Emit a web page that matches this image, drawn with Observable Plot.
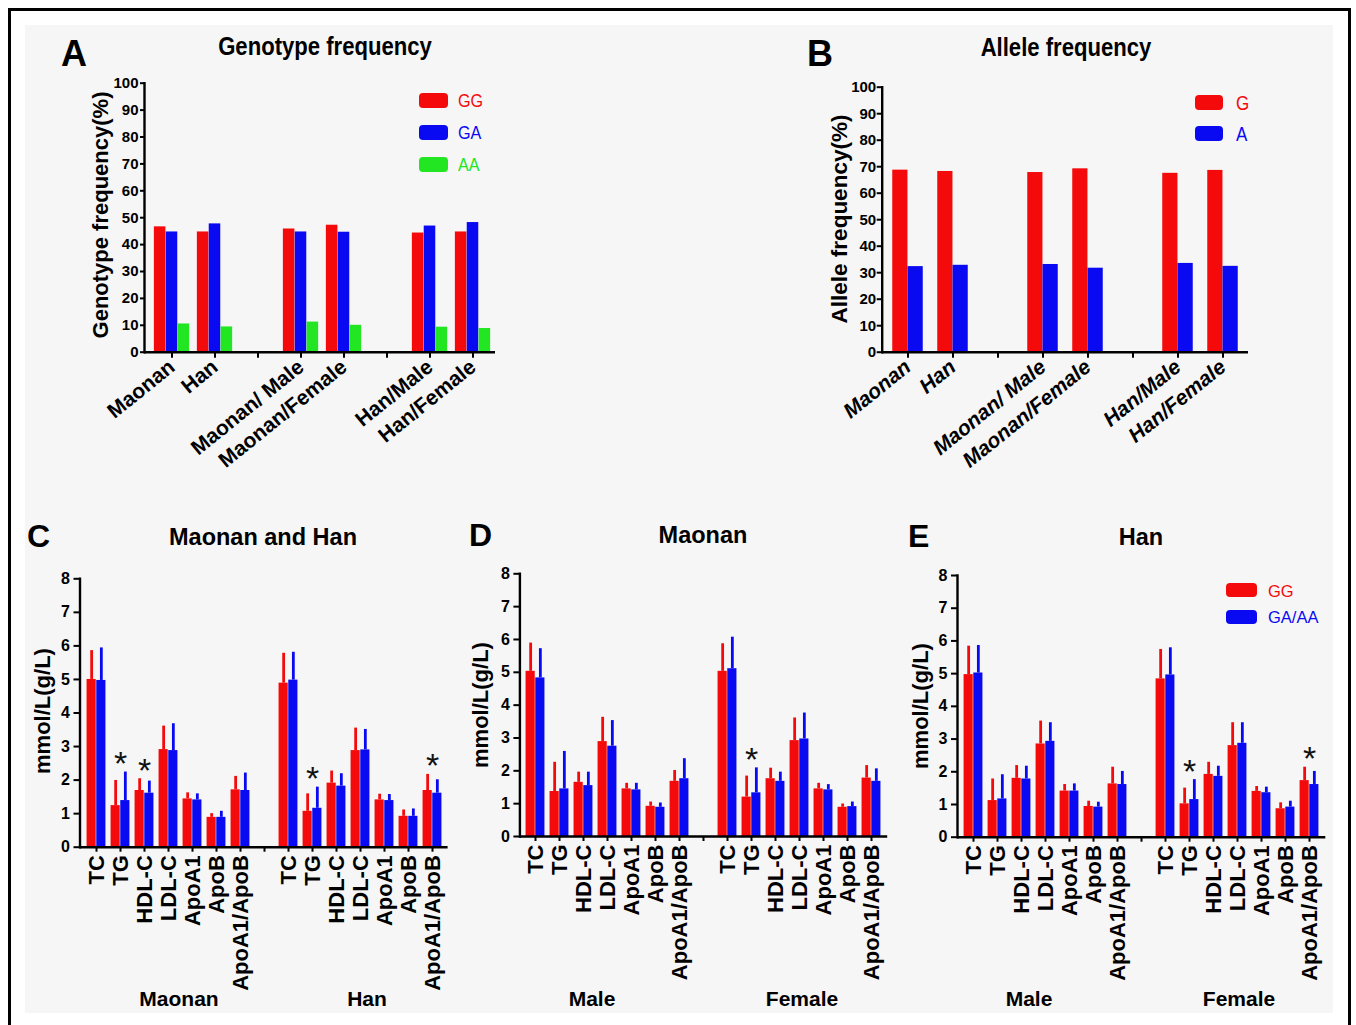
<!DOCTYPE html>
<html>
<head>
<meta charset="utf-8">
<script src="https://cdn.jsdelivr.net/npm/d3@7"></script>
<script src="https://cdn.jsdelivr.net/npm/@observablehq/plot@0.6"></script>
<style>
html,body{margin:0;padding:0;background:#fff;}
#root{position:relative;width:1356px;height:1025px;overflow:hidden;}
.frame{position:absolute;left:8px;top:8px;width:1337px;height:1040px;border:3px solid #000;}
.bg{position:absolute;left:25px;top:25px;width:1308px;height:988px;background:#f6f6f6;}
.t{position:absolute;white-space:nowrap;line-height:1;}
svg{position:absolute;}
</style>
</head>
<body>
<div id="root"><div class="frame"></div><div class="bg"></div></div>
<script>
const SANS = "'Liberation Sans', Arial, Helvetica, sans-serif";
const RED = "#f40a0a", BLUE = "#0a0af2", GREEN = "#22e622";

// ---------- Panel A: genotype frequency (%) ----------
const genoSlots = ["Maonan", "Han", "", "Maonan/ Male", "Maonan/Female", "", "Han/Male", "Han/Female"];
const genoSeries = ["GG", "GA", "AA"];
const genoGG = [46.6, 44.7, 45.8, 47.2, 44.3, 44.7];
const genoGA = [44.7, 47.7, 44.7, 44.6, 46.9, 48.2];
const genoAA = [10.5, 9.4, 11.2, 10.0, 9.3, 8.8];

// ---------- Panel B: allele frequency (%) ----------
const alleleSlots = ["Maonan", "Han", "", "Maonan/ Male", "Maonan/Female", "", "Han/Male", "Han/Female"];
const alleleSeries = ["G", "A"];
const alleleG = [68.7, 68.2, 67.8, 69.2, 67.5, 68.6];
const alleleA = [32.3, 32.8, 33.1, 31.7, 33.5, 32.4];

// ---------- Lipid panels ----------
const lipidLabels = ["TC", "TG", "HDL-C", "LDL-C", "ApoA1", "ApoB", "ApoA1/ApoB"];
const lipidSeries = ["GG", "GA/AA"];

// C: Maonan and Han
const cGroups = ["Maonan", "Han"];
const cMaonanGG = [5.00, 1.24, 1.69, 2.91, 1.44, 0.89, 1.71];
const cMaonanGGsd = [0.86, 0.75, 0.35, 0.70, 0.18, 0.11, 0.40];
const cMaonanGA = [4.97, 1.39, 1.61, 2.88, 1.41, 0.89, 1.69];
const cMaonanGAsd = [0.97, 0.85, 0.36, 0.80, 0.18, 0.18, 0.52];
const cHanGG = [4.89, 1.07, 1.91, 2.88, 1.41, 0.92, 1.69];
const cHanGGsd = [0.89, 0.52, 0.36, 0.67, 0.17, 0.19, 0.48];
const cHanGA = [4.98, 1.16, 1.82, 2.90, 1.39, 0.92, 1.61];
const cHanGAsd = [0.83, 0.63, 0.37, 0.61, 0.18, 0.22, 0.40];
const cStars = [["Maonan", "TG"], ["Maonan", "HDL-C"], ["Han", "TG"], ["Han", "ApoA1/ApoB"]];

// D: Maonan by sex
const dGroups = ["Male", "Female"];
const dMaleGG = [5.03, 1.37, 1.65, 2.89, 1.45, 0.92, 1.68];
const dMaleGGsd = [0.86, 0.89, 0.31, 0.74, 0.17, 0.13, 0.33];
const dMaleGA = [4.83, 1.45, 1.55, 2.75, 1.42, 0.89, 1.76];
const dMaleGAsd = [0.89, 1.14, 0.41, 0.78, 0.20, 0.13, 0.61];
const dFemaleGG = [5.03, 1.20, 1.76, 2.92, 1.45, 0.89, 1.78];
const dFemaleGGsd = [0.84, 0.64, 0.32, 0.69, 0.17, 0.10, 0.38];
const dFemaleGA = [5.11, 1.33, 1.68, 2.97, 1.42, 0.91, 1.68];
const dFemaleGAsd = [0.96, 0.76, 0.28, 0.79, 0.16, 0.14, 0.38];
const dStars = [["Female", "TG"]];

// E: Han by sex
const eGroups = ["Male", "Female"];
const eMaleGG = [4.97, 1.12, 1.80, 2.85, 1.41, 0.94, 1.63];
const eMaleGGsd = [0.87, 0.66, 0.39, 0.70, 0.20, 0.16, 0.51];
const eMaleGA = [5.02, 1.17, 1.78, 2.93, 1.41, 0.92, 1.61];
const eMaleGAsd = [0.84, 0.74, 0.39, 0.57, 0.22, 0.15, 0.40];
const eFemaleGG = [4.84, 1.02, 1.92, 2.80, 1.40, 0.87, 1.73];
const eFemaleGGsd = [0.90, 0.48, 0.37, 0.70, 0.15, 0.18, 0.41];
const eFemaleGA = [4.96, 1.15, 1.86, 2.87, 1.36, 0.92, 1.61];
const eFemaleGAsd = [0.83, 0.61, 0.31, 0.63, 0.17, 0.18, 0.40];
const eStars = [["Female", "TG"], ["Female", "ApoA1/ApoB"]];

const root = document.getElementById("root");

// ---------- helpers ----------
function freqRows(slots, seriesArrays) {
  const rows = [];
  const idx = slots.map((s, i) => s ? i : -1).filter(i => i >= 0);
  seriesArrays.forEach((arr, s) => arr.forEach((v, k) => rows.push({slot: idx[k], series: s, value: v})));
  return rows;
}
function lipidSlots() {
  return [...lipidLabels, "", ...lipidLabels];
}
function lipidRows(data) {
  const rows = [];
  data.forEach(([gg, ggsd, ga, gasd], g) => {
    const off = g * (lipidLabels.length + 1);
    gg.forEach((v, k) => rows.push({slot: off + k, series: 0, value: v, sd: ggsd[k]}));
    ga.forEach((v, k) => rows.push({slot: off + k, series: 1, value: v, sd: gasd[k]}));
  });
  return rows;
}
function starRows(groups, stars, rows) {
  return stars.map(([g, m]) => {
    const slot = groups.indexOf(g) * (lipidLabels.length + 1) + lipidLabels.indexOf(m);
    const top = d3.max(rows.filter(r => r.slot === slot), r => r.value + r.sd);
    return {slot, y: top + 0.45};
  });
}

function drawPanel(cfg) {
  const {pos, margins, inset = [0, 0], slots, rows, nSeries, barW, colors, yDomain, yTicks,
    yTickSize, yTickPad, yFont, xRotate, xTickSize, xTickPad, xFont, xFontStyle = "normal",
    stars = [], errW = 2.8, axisW = 2.4} = cfg;
  const [L, T, W, H] = pos;
  const [mT, mR, mB, mL] = margins;
  const n = slots.length;
  const step = (W - mL - mR - inset[0] - inset[1]) / n;
  const gap = (step - nSeries * barW) / 2;
  const marks = [];
  for (let s = 0; s < nSeries; s++) {
    const sub = rows.filter(r => r.series === s);
    marks.push(Plot.barY(sub, {x: "slot", y: "value", fill: colors[s],
      insetLeft: gap + s * barW, insetRight: step - gap - (s + 1) * barW}));
  }
  for (let s = 0; s < nSeries; s++) {
    const sub = rows.filter(r => r.series === s && r.sd != null);
    if (sub.length) marks.push(Plot.ruleX(sub, {x: "slot", y1: "value", y2: r => r.value + r.sd,
      stroke: colors[s], strokeWidth: errW, dx: gap + (s + 0.5) * barW - step / 2}));
  }
  if (stars.length) marks.push(Plot.text(stars, {x: "slot", y: "y", text: () => "*", fontSize: 34,
    fontWeight: "normal", fill: "#111", dy: 7}));
  marks.push(Plot.axisY({ticks: yTicks, tickSize: yTickSize, tickPadding: yTickPad, fontSize: yFont,
    fontWeight: "bold", strokeWidth: 2, label: null}));
  marks.push(Plot.axisX({tickSize: xTickSize, tickPadding: xTickPad, tickRotate: xRotate, fontSize: xFont,
    fontWeight: "bold", fontStyle: xFontStyle, strokeWidth: 2, tickFormat: i => slots[i], label: null}));
  marks.push(Plot.ruleY([0], {strokeWidth: axisW}));
  marks.push(Plot.frame({anchor: "left", strokeWidth: axisW}));
  const svg = Plot.plot({
    width: W, height: H,
    marginTop: mT, marginRight: mR, marginBottom: mB, marginLeft: mL,
    x: {type: "band", domain: d3.range(n), padding: 0, insetLeft: inset[0], insetRight: inset[1], label: null},
    y: {domain: yDomain, label: null},
    style: {fontFamily: SANS, fontWeight: "bold", color: "#000", background: "transparent", overflow: "visible"},
    marks
  });
  svg.style.left = L + "px";
  svg.style.top = T + "px";
  root.appendChild(svg);
}

function txt(str, {x, y, size, weight = "bold", style = "normal", color = "#000", anchor = "middle", sx = 1}) {
  const d = document.createElement("div");
  d.className = "t";
  d.textContent = str;
  const tr = anchor === "middle" ? "translateX(-50%)" : anchor === "end" ? "translateX(-100%)" : "";
  Object.assign(d.style, {left: x + "px", top: (y - 0.8465 * size) + "px", fontSize: size + "px",
    fontWeight: weight, fontStyle: style, color, fontFamily: SANS,
    transformOrigin: anchor === "start" ? "left center" : "center center",
    transform: (tr + (sx !== 1 ? ` scaleX(${sx})` : "")) || "none"});
  root.appendChild(d);
}
function vtxt(str, {cx, cy, size, weight = "bold"}) {
  const d = document.createElement("div");
  d.className = "t";
  d.textContent = str;
  Object.assign(d.style, {left: cx + "px", top: cy + "px", fontSize: size + "px", fontWeight: weight,
    fontFamily: SANS, transform: "translate(-50%,-50%) rotate(-90deg)"});
  root.appendChild(d);
}
function legend(items, {x, y0, dy, w, h, textX, size, sx = 1}) {
  items.forEach(([label, color], i) => {
    const sw = document.createElement("div");
    Object.assign(sw.style, {position: "absolute", left: x + "px", top: (y0 + i * dy) + "px", width: w + "px",
      height: h + "px", background: color, borderRadius: "4px"});
    root.appendChild(sw);
    txt(label, {x: textX, y: y0 + i * dy + h - 0.5, size, weight: "normal", color, anchor: "start", sx});
  });
}

// ---------- Panel A ----------
drawPanel({
  pos: [40, 60, 470, 440], margins: [22.7, 15, 148.3, 104], inset: [4.3, 0],
  slots: genoSlots, rows: freqRows(genoSlots, [genoGG, genoGA, genoAA]), nSeries: 3, barW: 11.87,
  colors: [RED, BLUE, GREEN], yDomain: [0, 100], yTicks: d3.range(0, 101, 10),
  yTickSize: 4, yTickPad: 2, yFont: 15, xRotate: -39, xTickSize: 6, xTickPad: 6, xFont: 21
});
// ---------- Panel B ----------
drawPanel({
  pos: [790, 60, 470, 440], margins: [26.7, 12, 148.3, 91.7], inset: [2.5, 3],
  slots: alleleSlots, rows: freqRows(alleleSlots, [alleleG, alleleA]), nSeries: 2, barW: 15.3,
  colors: [RED, BLUE], yDomain: [0, 100], yTicks: d3.range(0, 101, 10),
  yTickSize: 5, yTickPad: 1, yFont: 15, xRotate: -39, xTickSize: 6, xTickPad: 6, xFont: 21, xFontStyle: "italic"
});
// ---------- Panel C ----------
const cRows = lipidRows([[cMaonanGG, cMaonanGGsd, cMaonanGA, cMaonanGAsd], [cHanGG, cHanGGsd, cHanGA, cHanGAsd]]);
drawPanel({
  pos: [20, 555, 440, 470], margins: [23.3, 12.4, 178.3, 59.5],
  slots: lipidSlots(), rows: cRows, nSeries: 2, barW: 9.7, colors: [RED, BLUE],
  yDomain: [0, 8], yTicks: d3.range(0, 9), yTickSize: 6, yTickPad: 4, yFont: 16,
  xRotate: -90, xTickSize: 5, xTickPad: 3, xFont: 22, stars: starRows(cGroups, cStars, cRows)
});
// ---------- Panel D ----------
const dRows = lipidRows([[dMaleGG, dMaleGGsd, dMaleGA, dMaleGAsd], [dFemaleGG, dFemaleGGsd, dFemaleGA, dFemaleGAsd]]);
drawPanel({
  pos: [460, 555, 440, 470], margins: [18.3, 12.8, 189, 59.4],
  slots: lipidSlots(), rows: dRows, nSeries: 2, barW: 9.7, colors: [RED, BLUE],
  yDomain: [0, 8], yTicks: d3.range(0, 9), yTickSize: 6, yTickPad: 4, yFont: 16,
  xRotate: -90, xTickSize: 5, xTickPad: 3, xFont: 22, stars: starRows(dGroups, dStars, dRows)
});
// ---------- Panel E ----------
const eRows = lipidRows([[eMaleGG, eMaleGGsd, eMaleGA, eMaleGAsd], [eFemaleGG, eFemaleGGsd, eFemaleGA, eFemaleGAsd]]);
drawPanel({
  pos: [900, 555, 440, 470], margins: [20, 14.7, 188.3, 57],
  slots: lipidSlots(), rows: eRows, nSeries: 2, barW: 9.7, colors: [RED, BLUE],
  yDomain: [0, 8], yTicks: d3.range(0, 9), yTickSize: 6, yTickPad: 4, yFont: 16,
  xRotate: -90, xTickSize: 5, xTickPad: 3, xFont: 22, stars: starRows(eGroups, eStars, eRows)
});

// ---------- Text: letters, titles, axis labels, group labels ----------
txt("A", {x: 61, y: 66, size: 36, anchor: "start"});
txt("B", {x: 807, y: 66, size: 36, anchor: "start"});
txt("C", {x: 27, y: 547, size: 32, anchor: "start"});
txt("D", {x: 469, y: 546, size: 32, anchor: "start"});
txt("E", {x: 908, y: 547, size: 32, anchor: "start"});

txt("Genotype frequency", {x: 325, y: 55, size: 26, sx: 0.85});
txt("Allele frequency", {x: 1066, y: 56, size: 26, sx: 0.85});
txt("Maonan and Han", {x: 263, y: 546, size: 23.5});
txt("Maonan", {x: 703, y: 544, size: 23.5});
txt("Han", {x: 1141, y: 546, size: 23.5});

vtxt("Genotype frequency(%)", {cx: 101, cy: 215, size: 22});
vtxt("Allele frequency(%)", {cx: 840, cy: 219, size: 22.5});
vtxt("mmol/L(g/L)", {cx: 43, cy: 711, size: 22});
vtxt("mmol/L(g/L)", {cx: 481, cy: 705, size: 22});
vtxt("mmol/L(g/L)", {cx: 921, cy: 706, size: 22});

txt(cGroups[0], {x: 179, y: 1006, size: 21});
txt(cGroups[1], {x: 367, y: 1006, size: 21});
txt(dGroups[0], {x: 592, y: 1006, size: 21});
txt(dGroups[1], {x: 802, y: 1006, size: 21});
txt(eGroups[0], {x: 1029, y: 1006, size: 21});
txt(eGroups[1], {x: 1239, y: 1006, size: 21});

// ---------- Legends ----------
legend([[genoSeries[0], RED], [genoSeries[1], BLUE], [genoSeries[2], GREEN]],
  {x: 419, y0: 93, dy: 32, w: 29, h: 15, textX: 458, size: 19, sx: 0.85});
legend([[alleleSeries[0], RED], [alleleSeries[1], BLUE]],
  {x: 1195, y0: 95, dy: 31, w: 28, h: 15, textX: 1236, size: 20, sx: 0.85});
legend([[lipidSeries[0], RED], [lipidSeries[1], BLUE]],
  {x: 1226, y0: 583, dy: 26.5, w: 31, h: 14, textX: 1268, size: 16.5});
</script>
</body>
</html>
